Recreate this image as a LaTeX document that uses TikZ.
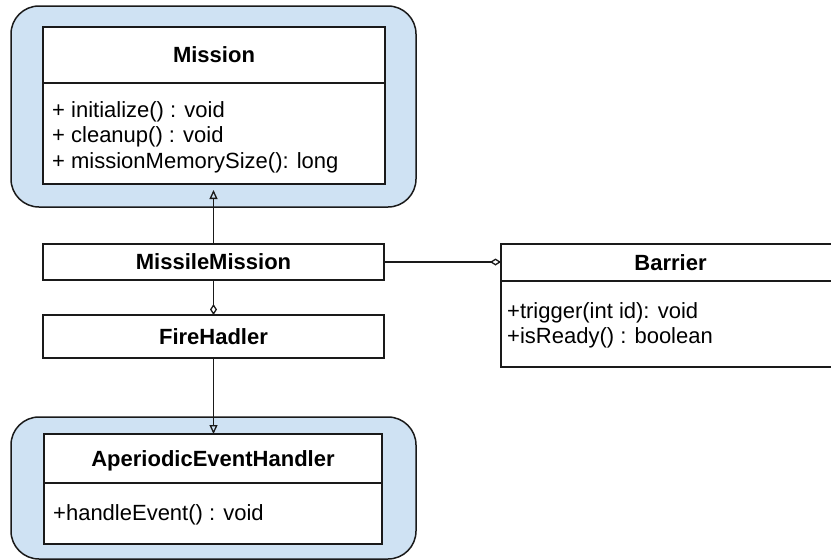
\documentclass[tikz,border=0pt]{standalone}
\usepackage{fontspec}
\setmainfont{Liberation Sans}
\usetikzlibrary{arrows.meta}
\definecolor{bluegrp}{HTML}{CFE2F3}
\definecolor{ink}{HTML}{1A1A1A}
\tikzset{
  grp/.style={draw=ink, line width=1.5pt, fill=bluegrp, rounded corners=28pt},
  cls/.style={draw=ink, line width=1.5pt, fill=white, inner sep=0pt, outer sep=0pt, font=\fontsize{22}{25}\selectfont\bfseries, text depth=0pt},
  clsbody/.style={draw=ink, line width=1.5pt, fill=white, inner sep=0pt, outer sep=0pt},
  member/.style={anchor=base west, inner sep=0pt, font=\fontsize{22}{25}\selectfont},
  conn/.style={draw=ink, line width=1.5pt},
  inherit/.style={conn, -{Triangle[open, length=9pt, width=8pt, line width=1.3pt]}},
  aggr/.style={conn, -{Diamond[open, length=11pt, width=7pt, line width=1.3pt]}}
}
\begin{document}
\begin{tikzpicture}[x=1pt, y=-1pt]
\useasboundingbox (0,0) rectangle (831,560);
% group backgrounds
\path[grp] (11,6) rectangle (416,207);
\path[grp] (11,417) rectangle (416,559);
% Mission
\node[cls, minimum width=342pt, minimum height=56pt] (mission) at (214,55) {Mission};
\node[clsbody, minimum width=342pt, minimum height=101pt] (missionbody) at (214,133.5) {};
\node[member] (m1) at (52,117) {+ initialize() : void};
\node[member] (m2) at (52,142.5) {+ cleanup() : void};
\node[member] (m3) at (52,168) {+ missionMemorySize(): long};
% MissileMission
\node[cls, minimum width=341pt, minimum height=36pt] (mm) at (213.5,262) {MissileMission};
% FireHadler
\node[cls, minimum width=341pt, minimum height=43pt] (fh) at (213.5,336.5) {FireHadler};
% Barrier
\node[cls, minimum width=339pt, minimum height=37pt] (barrier) at (670.5,262.5) {Barrier};
\node[clsbody, minimum width=339pt, minimum height=86pt] (barrierbody) at (670.5,324) {};
\node[member] (b1) at (507,318) {+trigger(int id): void};
\node[member] (b2) at (507,343) {+isReady() : boolean};
% AperiodicEventHandler
\node[cls, minimum width=338pt, minimum height=49pt] (aeh) at (213,458.5) {AperiodicEventHandler};
\node[clsbody, minimum width=338pt, minimum height=61pt] (aehbody) at (213,513.5) {};
\node[member] (a1) at (53,520) {+handleEvent() : void};
% connectors
\draw[inherit, shorten >=6pt] (mm.north) -- (mm.north |- missionbody.south);
\draw[aggr] (mm.south) -- (mm.south |- fh.north);
\draw[aggr] (mm.east) -- (mm.east -| barrier.west);
\draw[inherit] (fh.south) -- (fh.south |- aeh.north);
\end{tikzpicture}
\end{document}
